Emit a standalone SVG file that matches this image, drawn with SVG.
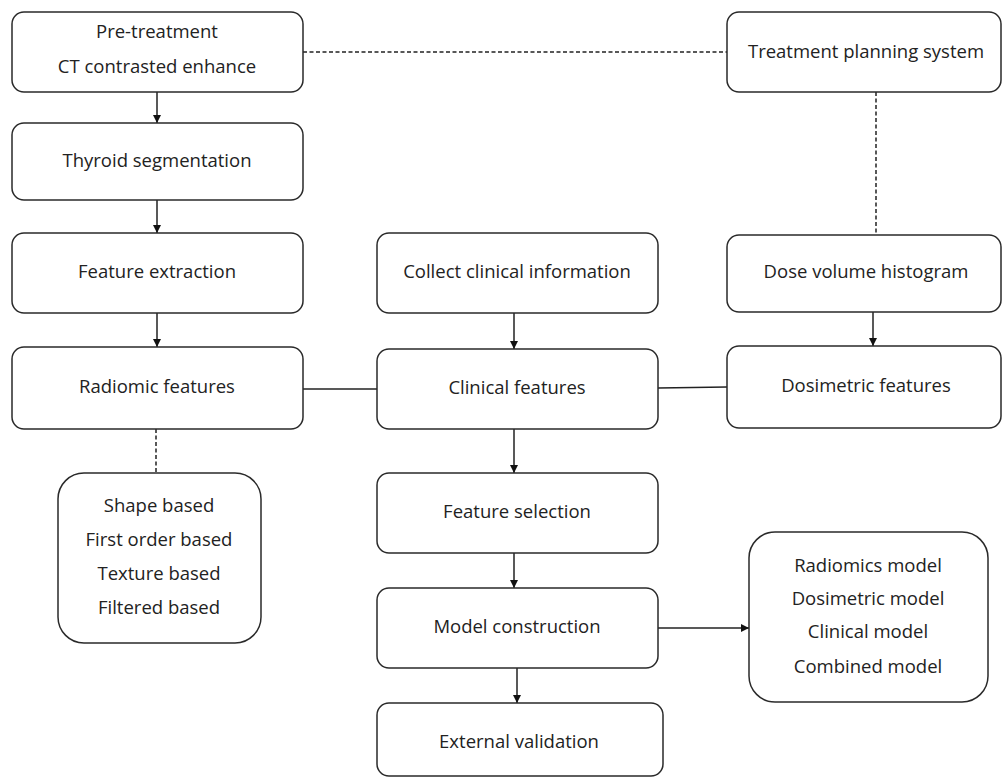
<svg xmlns="http://www.w3.org/2000/svg" width="1003" height="778" viewBox="0 0 1003 778">
  <style>
    .box { fill: #ffffff; stroke: #2a2a2a; stroke-width: 1.5; }
    .lbl { font-family: "Open Sans", "Noto Sans", sans-serif; font-size: 18.5px; fill: #222; text-anchor: middle; }
    .link { stroke: #222; stroke-width: 1.5; fill: none; }
    .dash { stroke: #222; stroke-width: 1.5; fill: none; stroke-dasharray: 4 2.5; }
  </style>
  <defs>
    <marker id="arrow" viewBox="0 0 10 10" refX="10" refY="5" markerWidth="8" markerHeight="8" markerUnits="userSpaceOnUse" orient="auto">
      <path d="M0,0 L10,5 L0,10 Z" fill="#111"/>
    </marker>
  </defs>
  <rect width="1003" height="778" fill="#ffffff"/>

  <!-- connectors -->
  <g id="connectors">
    <line class="dash" x1="303" y1="52" x2="727" y2="52"/>
    <line class="dash" x1="876" y1="92" x2="876" y2="235"/>
    <line class="dash" x1="156" y1="429" x2="156" y2="473"/>
    <line class="link" x1="157" y1="92" x2="157" y2="123" marker-end="url(#arrow)"/>
    <line class="link" x1="157" y1="200" x2="157" y2="233" marker-end="url(#arrow)"/>
    <line class="link" x1="157" y1="313" x2="157" y2="347" marker-end="url(#arrow)"/>
    <line class="link" x1="514" y1="313" x2="514" y2="349" marker-end="url(#arrow)"/>
    <line class="link" x1="873" y1="312" x2="873" y2="346" marker-end="url(#arrow)"/>
    <line class="link" x1="303" y1="389" x2="377" y2="389"/>
    <line class="link" x1="658" y1="388" x2="727" y2="387"/>
    <line class="link" x1="514" y1="429" x2="514" y2="473" marker-end="url(#arrow)"/>
    <line class="link" x1="514" y1="553" x2="514" y2="588" marker-end="url(#arrow)"/>
    <line class="link" x1="658" y1="628" x2="749" y2="628" marker-end="url(#arrow)"/>
    <line class="link" x1="517" y1="668" x2="517" y2="703" marker-end="url(#arrow)"/>
  </g>

  <g id="pre-treatment">
    <rect class="box" x="12" y="12" width="291" height="80" rx="12"/>
    <text class="lbl" x="157" y="38">Pre-treatment</text>
    <text class="lbl" x="157" y="73">CT contrasted enhance</text>
  </g>
  <g id="treatment-planning">
    <rect class="box" x="727" y="12" width="274" height="80" rx="12"/>
    <text class="lbl" x="866" y="58">Treatment planning system</text>
  </g>
  <g id="thyroid-segmentation">
    <rect class="box" x="12" y="123" width="291" height="77" rx="12"/>
    <text class="lbl" x="157" y="167">Thyroid segmentation</text>
  </g>
  <g id="feature-extraction">
    <rect class="box" x="12" y="233" width="291" height="80" rx="12"/>
    <text class="lbl" x="157" y="278">Feature extraction</text>
  </g>
  <g id="collect-clinical">
    <rect class="box" x="377" y="233" width="281" height="80" rx="12"/>
    <text class="lbl" x="517" y="278">Collect clinical information</text>
  </g>
  <g id="dose-volume">
    <rect class="box" x="727" y="235" width="274" height="77" rx="12"/>
    <text class="lbl" x="866" y="278">Dose volume histogram</text>
  </g>
  <g id="radiomic-features">
    <rect class="box" x="12" y="347" width="291" height="82" rx="12"/>
    <text class="lbl" x="157" y="393">Radiomic features</text>
  </g>
  <g id="clinical-features">
    <rect class="box" x="377" y="349" width="281" height="80" rx="12"/>
    <text class="lbl" x="517" y="394">Clinical features</text>
  </g>
  <g id="dosimetric-features">
    <rect class="box" x="727" y="346" width="274" height="82" rx="12"/>
    <text class="lbl" x="866" y="392">Dosimetric features</text>
  </g>
  <g id="feature-types">
    <rect class="box" x="58" y="473" width="203" height="170" rx="26"/>
    <text class="lbl" x="159" y="512">Shape based</text>
    <text class="lbl" x="159" y="546">First order based</text>
    <text class="lbl" x="159" y="580">Texture based</text>
    <text class="lbl" x="159" y="614">Filtered based</text>
  </g>
  <g id="feature-selection">
    <rect class="box" x="377" y="473" width="281" height="80" rx="12"/>
    <text class="lbl" x="517" y="518">Feature selection</text>
  </g>
  <g id="model-construction">
    <rect class="box" x="377" y="588" width="281" height="80" rx="12"/>
    <text class="lbl" x="517" y="633">Model construction</text>
  </g>
  <g id="models">
    <rect class="box" x="749" y="532" width="239" height="170" rx="26"/>
    <text class="lbl" x="868" y="572">Radiomics model</text>
    <text class="lbl" x="868" y="605">Dosimetric model</text>
    <text class="lbl" x="868" y="638">Clinical model</text>
    <text class="lbl" x="868" y="673">Combined model</text>
  </g>
  <g id="external-validation">
    <rect class="box" x="377" y="703" width="286" height="73" rx="12"/>
    <text class="lbl" x="519" y="748">External validation</text>
  </g>
</svg>
